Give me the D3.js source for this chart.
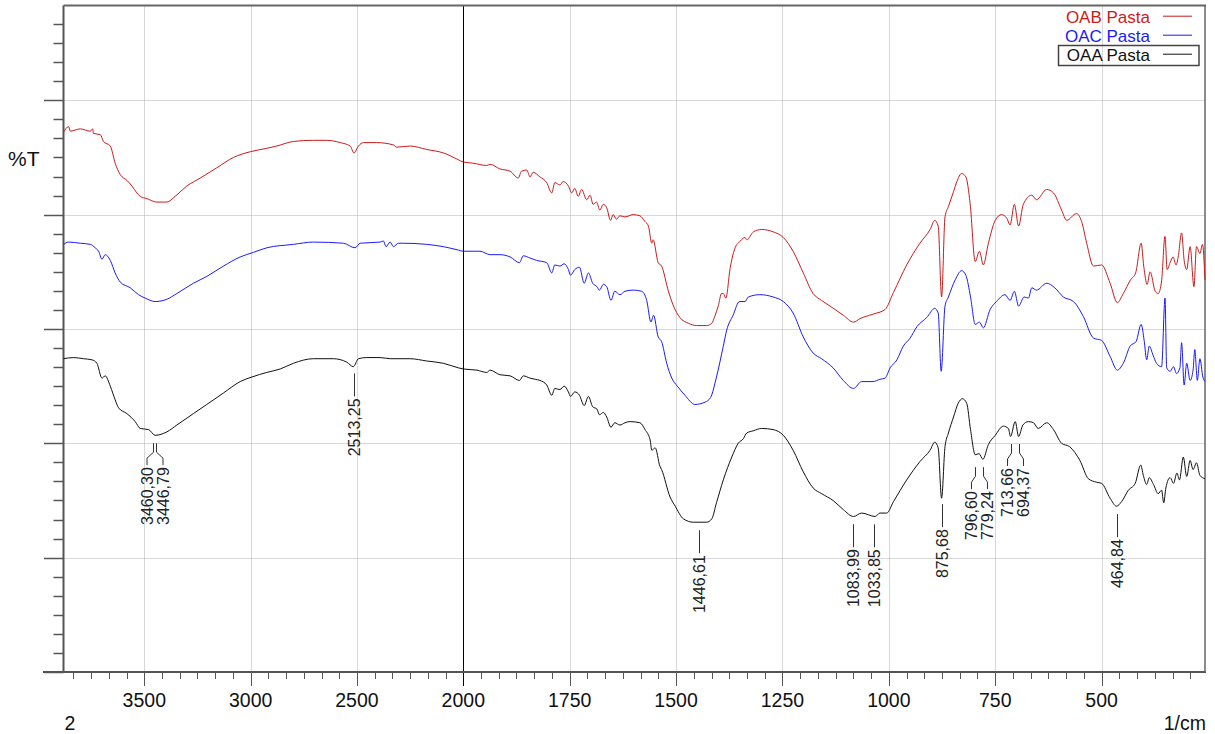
<!DOCTYPE html>
<html>
<head>
<meta charset="utf-8">
<script src="https://cdn.jsdelivr.net/npm/d3@7"></script>
<style>
  html, body { margin: 0; padding: 0; background: #fff; }
  svg { display: block; }
  text { font-family: "Liberation Sans", Arial, sans-serif; }
</style>
</head>
<body>
<svg id="chart" width="1215" height="734"></svg>
<script>
// FTIR spectra, %T vs wavenumber (1/cm); x axis is expanded 2x below 2000 1/cm.

const seriesNames = ["OAB Pasta", "OAC Pasta", "OAA Pasta"];
const seriesColors = ["#cc1a1a", "#1a1aff", "#111111"];

// [wavenumber, %T]
const oabPasta = [
  [3880,47.2],[3856,47.7],[3848,47.3],[3801,47.5],[3754,47.3],[3743,47.5],[3739,47.1],[3707,47.0],[3692,46.4],[3660,46.0],
  [3637,44.5],[3613,43.5],[3582,43.0],[3558,42.5],[3535,41.9],[3519,41.6],[3488,41.4],[3441,41.1],[3394,41.1],[3355,41.6],
  [3300,42.5],[3237,43.2],[3159,44.1],[3081,45.0],[3002,45.5],[2924,45.8],[2877,46.0],[2799,46.4],[2705,46.5],[2642,46.5],
  [2579,46.3],[2532,46.0],[2514,45.4],[2493,46.0],[2470,46.3],[2407,46.3],[2329,46.1],[2313,45.9],[2250,46.0],[2172,45.7],
  [2094,45.4],[2023,44.8],[2000,44.6],
  [1977,44.5],[1945,44.3],[1937,44.4],[1914,44.0],[1890,43.8],[1871,43.2],[1863,43.8],[1851,43.9],[1843,43.3],[1836,43.7],
  [1820,43.3],[1804,42.8],[1792,41.9],[1785,42.8],[1773,42.6],[1765,42.9],[1753,42.5],[1745,41.9],[1738,42.3],[1730,41.6],
  [1722,42.2],[1710,41.3],[1702,41.7],[1695,40.9],[1687,41.1],[1679,40.4],[1671,40.9],[1663,40.6],[1654,39.5],[1648,40.0],
  [1640,39.6],[1632,39.9],[1620,39.8],[1601,40.0],[1585,39.9],[1573,39.4],[1565,39.0],[1557,37.5],[1554,37.8],[1542,35.8],
  [1534,35.5],[1518,33.3],[1507,32.1],[1491,31.0],[1471,30.5],[1452,30.3],[1428,30.3],[1416,30.5],[1409,31.1],[1401,32.0],
  [1393,33.1],[1389,33.1],[1383,32.7],[1373,35.3],[1357,37.4],[1354,37.5],[1338,38.0],[1334,37.8],[1318,38.5],[1299,38.7],
  [1272,38.5],[1248,38.0],[1225,36.8],[1201,34.9],[1178,33.1],[1158,32.5],[1138,32.0],[1107,31.2],[1083,30.6],[1068,30.9],
  [1037,31.3],[1009,31.7],[989,33.2],[958,35.6],[927,37.5],[903,38.7],[892,39.5],[884,39.0],[876,32.8],[868,39.8],
  [860,40.7],[848,42.0],[840,42.9],[829,43.6],[819,43.3],[809,41.0],[797,35.9],[787,36.8],[778,35.6],[766,37.5],
  [750,39.5],[735,40.0],[723,39.7],[715,39.1],[705,40.9],[695,39.0],[684,40.9],[664,41.7],[653,41.3],[629,42.2],
  [613,41.9],[594,40.4],[582,39.5],[559,40.1],[547,39.4],[535,37.5],[519,35.5],[500,35.6],[480,34.0],[463,32.3],
  [449,33.1],[432,34.3],[420,34.9],[407,37.5],[401,35.5],[393,33.9],[386,35.0],[374,33.3],[367,33.1],[359,34.2],
  [351,38.1],[346,35.2],[339,35.8],[332,36.3],[325,35.6],[320,36.3],[312,38.4],[306,36.0],[300,35.2],[292,37.2],
  [283,33.7],[277,37.2],[269,36.6],[263,37.4],[257,34.3]
];

const oacPasta = [
  [3880,37.4],[3856,37.6],[3801,37.5],[3754,37.4],[3731,37.1],[3715,36.8],[3699,36.1],[3684,36.5],[3660,36.0],[3637,34.9],
  [3613,34.1],[3566,33.6],[3527,33.0],[3496,32.7],[3449,32.4],[3394,32.6],[3347,33.1],[3269,34.0],[3206,34.6],[3128,35.5],
  [3049,36.3],[2987,36.7],[2924,37.1],[2799,37.4],[2705,37.6],[2564,37.5],[2509,37.1],[2485,37.5],[2391,37.6],[2376,37.7],
  [2363,37.2],[2344,37.6],[2329,37.2],[2305,37.5],[2282,37.5],[2172,37.4],[2094,37.2],[2023,36.9],[2000,36.8],
  [1961,36.8],[1937,36.5],[1914,36.5],[1890,36.3],[1868,35.8],[1859,36.4],[1843,36.2],[1828,36.0],[1804,35.8],[1792,34.9],
  [1785,35.6],[1773,35.5],[1763,35.7],[1753,35.2],[1748,34.7],[1738,35.2],[1727,35.4],[1716,34.0],[1706,34.9],[1696,34.0],
  [1686,33.7],[1680,33.4],[1671,33.9],[1663,33.7],[1653,32.5],[1644,33.3],[1632,33.0],[1620,33.3],[1601,33.4],[1581,33.3],
  [1569,32.5],[1559,30.6],[1553,31.2],[1542,29.3],[1534,28.9],[1522,27.0],[1510,25.7],[1497,25.0],[1479,24.2],[1456,23.4],
  [1432,23.6],[1419,24.0],[1405,25.8],[1389,28.5],[1381,29.9],[1366,31.2],[1351,32.4],[1338,32.4],[1330,32.8],[1303,33.0],
  [1272,32.8],[1248,32.4],[1225,31.4],[1201,29.3],[1178,27.9],[1158,27.4],[1131,26.6],[1107,25.5],[1083,24.8],[1064,25.4],
  [1037,25.4],[1021,25.6],[1009,25.7],[997,26.6],[981,27.3],[966,28.5],[950,29.2],[934,30.2],[911,31.0],[892,31.8],
  [884,31.4],[877,26.3],[868,32.0],[860,32.8],[844,34.3],[829,35.1],[819,34.7],[808,32.8],[797,30.4],[787,30.6],
  [778,30.1],[762,31.7],[747,32.4],[727,33.0],[715,32.5],[705,33.3],[695,32.0],[682,32.8],[672,32.7],[664,33.6],
  [653,33.4],[629,34.0],[610,33.6],[590,32.8],[566,32.4],[543,31.1],[519,29.2],[500,29.0],[480,27.6],[463,26.4],
  [449,27.0],[433,28.5],[419,28.9],[407,30.4],[400,29.0],[394,27.3],[388,28.5],[379,27.7],[371,27.0],[359,26.7],
  [351,32.7],[347,26.6],[339,26.3],[331,26.7],[324,26.1],[316,26.6],[312,28.8],[306,25.1],[300,27.0],[292,25.5],
  [285,26.4],[281,28.2],[275,25.5],[269,27.4],[262,25.8],[257,25.4]
];

const oaaPasta = [
  [3880,27.4],[3833,27.5],[3786,27.4],[3746,27.3],[3723,27.0],[3699,25.7],[3684,25.9],[3660,25.0],[3637,23.8],[3621,23.1],
  [3582,22.6],[3543,21.9],[3519,21.3],[3480,21.2],[3449,20.7],[3394,21.0],[3347,21.6],[3269,22.6],[3206,23.4],[3128,24.4],
  [3049,25.4],[2994,25.8],[2924,26.2],[2861,26.5],[2799,27.0],[2705,27.4],[2611,27.4],[2548,27.1],[2517,26.7],[2493,27.4],
  [2454,27.5],[2391,27.5],[2344,27.4],[2250,27.4],[2172,27.2],[2094,27.0],[2023,26.6],[2000,26.5],
  [1968,26.4],[1945,26.2],[1937,26.4],[1914,26.0],[1890,25.9],[1868,25.5],[1859,25.9],[1843,25.7],[1831,25.6],[1820,25.5],
  [1804,25.1],[1792,24.2],[1785,24.8],[1773,24.7],[1763,25.0],[1753,24.5],[1748,24.1],[1738,24.5],[1727,24.2],[1716,23.3],
  [1706,24.1],[1696,23.2],[1686,23.0],[1680,22.5],[1671,22.7],[1663,22.3],[1653,21.4],[1644,21.8],[1632,21.6],[1620,21.8],
  [1608,21.9],[1585,21.8],[1573,21.2],[1561,20.3],[1557,19.4],[1549,19.6],[1538,18.0],[1534,17.7],[1514,15.3],[1502,14.5],
  [1483,13.4],[1459,13.1],[1428,13.1],[1416,13.4],[1405,14.8],[1389,16.8],[1369,18.8],[1354,20.0],[1342,20.4],[1334,20.9],
  [1318,21.1],[1299,21.3],[1272,21.2],[1248,20.7],[1225,19.4],[1201,17.5],[1178,16.1],[1158,15.6],[1131,15.0],[1107,14.2],
  [1083,13.6],[1064,13.9],[1032,13.6],[1021,13.9],[1005,13.9],[989,14.9],[958,16.8],[927,18.4],[903,19.4],[892,20.1],
  [884,19.6],[876,15.2],[868,19.7],[860,20.9],[848,22.3],[837,23.5],[827,23.9],[817,23.5],[808,21.2],[797,19.0],
  [788,19.1],[779,18.6],[766,19.9],[750,20.7],[731,21.5],[719,21.3],[714,20.6],[703,21.9],[695,20.6],[685,21.6],
  [672,21.9],[660,21.8],[649,21.3],[629,21.8],[613,21.2],[594,20.0],[575,19.7],[551,18.5],[531,16.9],[512,16.6],
  [500,16.5],[480,15.2],[465,14.5],[453,14.9],[437,15.9],[421,16.5],[408,18.1],[402,17.2],[394,16.4],[388,17.0],
  [378,16.4],[367,15.6],[359,15.9],[354,14.8],[349,16.1],[339,17.0],[331,16.5],[323,17.4],[317,16.8],[308,18.8],
  [300,17.1],[292,18.5],[285,17.7],[277,18.3],[269,17.2],[257,16.9]
];

// x axis labels
const xTickLabels = [3500, 3000, 2500, 2000, 1750, 1500, 1250, 1000, 750, 500];
// y axis major ticks (no labels drawn)
const yMajorTicks = [0, 10, 20, 30, 40, 50];

// peak picks on OAA Pasta
const singlePeaks = [2513.25, 1446.61, 1083.99, 1033.85, 875.68, 464.84];
const pairedPeaks = [[3460.30, 3446.79], [796.60, 779.24], [713.66, 694.37]];

(function draw() {
  // ---------- layout ----------
  const pL = 63.5, pR = 1205, pT = 5.5, pB = 672;

  const x = d3.scaleLinear()
    .domain([3880, 2000, 257])
    .range([pL, 463.3, pR]);

  const y = d3.scaleLinear()
    .domain([0, 50])
    .range([pB, 100.3]);
  const yTopValue = y.invert(pT);

  const svg = d3.select("#chart");
  svg.append("rect").attr("width", 1215).attr("height", 734).attr("fill", "#fff");

  // ---------- grid ----------
  const grid = svg.append("g");
  grid.selectAll("line.hg")
    .data(yMajorTicks.filter(v => v > 0))
    .join("line")
    .attr("x1", pL).attr("x2", pR)
    .attr("y1", d => Math.round(y(d)) + 0.5).attr("y2", d => Math.round(y(d)) + 0.5)
    .attr("stroke", "#b0b0b0").attr("stroke-width", 1).attr("stroke-dasharray", "1,1");

  grid.selectAll("line.vg")
    .data(xTickLabels.filter(v => v !== 2000))
    .join("line")
    .attr("x1", d => Math.round(x(d)) + 0.5).attr("x2", d => Math.round(x(d)) + 0.5)
    .attr("y1", pT).attr("y2", pB)
    .attr("stroke", "#b0b0b0").attr("stroke-width", 1).attr("stroke-dasharray", "1,1");

  // scale break marker at 2000
  svg.append("line")
    .attr("x1", Math.round(x(2000)) + 0.5).attr("x2", Math.round(x(2000)) + 0.5)
    .attr("y1", pT).attr("y2", pB + 14)
    .attr("stroke", "#000").attr("stroke-width", 1);

  // ---------- axes ----------
  const axisColor = "#555";
  const ax = svg.append("g");

  // y ticks: majors every 10, minors every 10/6
  const yMinor = d3.range(0, yTopValue + 0.01, 10 / 6);
  ax.selectAll("line.ym")
    .data(yMinor)
    .join("line")
    .attr("x1", d => (Math.abs(d / 10 - Math.round(d / 10)) < 1e-6) ? 44 : 53.5)
    .attr("x2", pL)
    .attr("y1", d => Math.round(y(d)) + 0.5).attr("y2", d => Math.round(y(d)) + 0.5)
    .attr("stroke", axisColor).attr("stroke-width", 1.5);

  // x ticks: six subdivisions per labelled interval
  const upperStep = 500 / 6, lowerStep = 250 / 6;
  const xMinor = [];
  for (let v = 3500; v <= 3880; v += upperStep) xMinor.push(v);
  for (let v = 3500 - upperStep; v > 2000 + 1; v -= upperStep) xMinor.push(v);
  for (let v = 2000; v >= 257; v -= lowerStep) xMinor.push(v);
  const isMajor = v => xTickLabels.some(t => Math.abs(t - v) < 0.5);
  ax.selectAll("line.xm")
    .data(xMinor)
    .join("line")
    .attr("x1", d => Math.round(x(d)) + 0.5).attr("x2", d => Math.round(x(d)) + 0.5)
    .attr("y1", pB).attr("y2", d => pB + (isMajor(d) ? 14 : 7))
    .attr("stroke", d => (Math.abs(d - 2000) < 0.5) ? "#000" : axisColor)
    .attr("stroke-width", 1);

  // frame
  ax.append("line").attr("x1", pL).attr("x2", pL).attr("y1", pT).attr("y2", pB)
    .attr("stroke", axisColor).attr("stroke-width", 2);
  ax.append("line").attr("x1", 43).attr("x2", pR + 1).attr("y1", pB).attr("y2", pB)
    .attr("stroke", axisColor).attr("stroke-width", 2);
  ax.append("line").attr("x1", pL).attr("x2", pR + 1).attr("y1", pT).attr("y2", pT)
    .attr("stroke", "#666").attr("stroke-width", 2);
  ax.append("line").attr("x1", pR).attr("x2", pR).attr("y1", pT).attr("y2", pB)
    .attr("stroke", "#666").attr("stroke-width", 1.5);

  ax.selectAll("text.xl")
    .data(xTickLabels)
    .join("text")
    .attr("x", d => x(d)).attr("y", 707)
    .attr("text-anchor", "middle")
    .attr("font-size", 19.5).attr("fill", "#111")
    .text(d => d);

  svg.append("text").attr("x", 70).attr("y", 730).attr("text-anchor", "middle")
    .attr("font-size", 19.5).attr("fill", "#111").text("2");
  svg.append("text").attr("x", 1206).attr("y", 730).attr("text-anchor", "end")
    .attr("font-size", 19.5).attr("fill", "#111").text("1/cm");
  svg.append("text").attr("x", 8).attr("y", 166)
    .attr("font-size", 21).attr("fill", "#111").text("%T");

  // ---------- spectra ----------
  const line = d3.line()
    .x(d => x(d[0]))
    .y(d => y(d[1]))
    .curve(d3.curveMonotoneX);

  const plot = svg.append("g");
  [oabPasta, oacPasta, oaaPasta].forEach((s, i) => {
    plot.append("path")
      .datum(s)
      .attr("d", line)
      .attr("fill", "none")
      .attr("stroke", seriesColors[i])
      .attr("stroke-width", 1)
      .attr("stroke-linejoin", "round");
  });

  // ---------- peak labels ----------
  const asc = oaaPasta.slice().sort((a, b) => a[0] - b[0]);
  const bis = d3.bisector(d => d[0]).left;
  function valueAt(v) {
    const i = Math.max(1, Math.min(asc.length - 1, bis(asc, v)));
    const a = asc[i - 1], b = asc[i];
    const t = (v - a[0]) / (b[0] - a[0]);
    return a[1] + t * (b[1] - a[1]);
  }
  const fmt = v => v.toFixed(2).replace(".", ",");
  const peaks = svg.append("g");
  const leaderColor = "#333";

  function drawLabel(px, yTop, v) {
    peaks.append("text")
      .attr("transform", `translate(${px},${yTop + 2}) rotate(-90)`)
      .attr("text-anchor", "end")
      .attr("dy", "0.36em")
      .attr("font-size", 16)
      .attr("fill", "#222")
      .text(fmt(v));
  }

  singlePeaks.forEach(v => {
    const px = Math.round(x(v)) + 0.5;
    const y0 = y(valueAt(v)) + 8;
    const y1 = y0 + 23;
    peaks.append("line").attr("x1", px).attr("x2", px).attr("y1", y0).attr("y2", y1)
      .attr("stroke", leaderColor).attr("stroke-width", 1);
    drawLabel(px, y1, v);
  });

  pairedPeaks.forEach(pair => {
    const xs = pair.map(v => Math.round(x(v)) + 0.5);
    const y0 = d3.max(pair, v => y(valueAt(v))) + 8;
    const y1 = y0 + 9, y2 = y1 + 6, y3 = y2 + 7;
    const mid = (xs[0] + xs[1]) / 2;
    const spread = [mid - 8, mid + 8];
    pair.forEach((v, k) => {
      peaks.append("path")
        .attr("d", `M${xs[k]},${y0}V${y1}L${spread[k]},${y2}V${y3}`)
        .attr("fill", "none").attr("stroke", leaderColor).attr("stroke-width", 1);
      drawLabel(spread[k], y3, v);
    });
  });

  // ---------- legend ----------
  const legend = svg.append("g");
  const legendBase = [22.7, 41.7, 60.7];
  seriesNames.forEach((name, i) => {
    legend.append("text")
      .attr("x", 1150).attr("y", legendBase[i])
      .attr("text-anchor", "end")
      .attr("font-size", 17)
      .attr("fill", seriesColors[i])
      .text(name);
    legend.append("line")
      .attr("x1", 1163).attr("x2", 1192)
      .attr("y1", legendBase[i] - 6.5).attr("y2", legendBase[i] - 6.5)
      .attr("stroke", seriesColors[i]).attr("stroke-width", 1);
  });
  legend.append("rect")
    .attr("x", 1058.5).attr("y", 45.5).attr("width", 140.5).attr("height", 20)
    .attr("fill", "none").attr("stroke", "#444").attr("stroke-width", 1.5);
})();
</script>
</body>
</html>
